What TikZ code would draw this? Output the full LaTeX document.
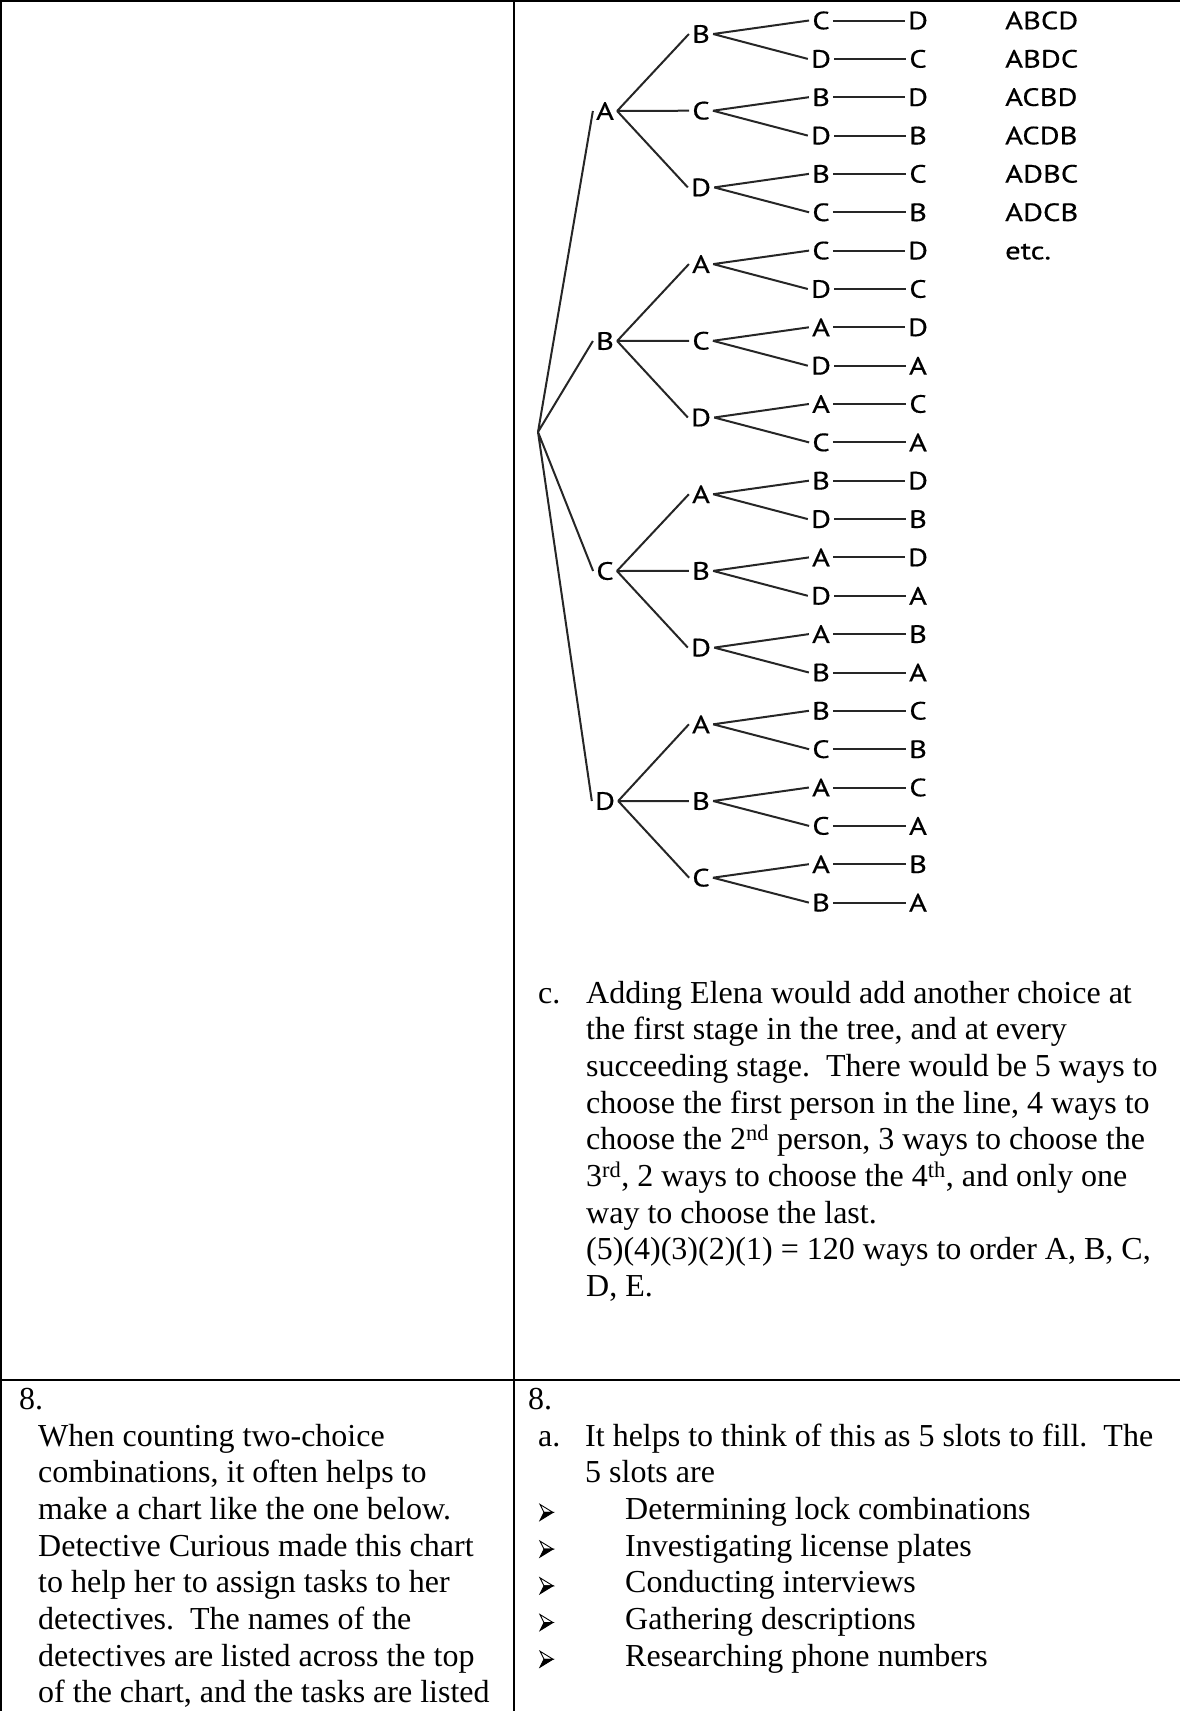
\documentclass[tikz,border=0pt]{standalone}
\usepackage{fontspec}
\setmainfont{Liberation Serif}
\newfontfamily\treefont[FakeStretch=1.22,FakeBold=0.5]{PT Sans}
\usepackage{tikz}

\tikzset{
  treeletter/.style={inner sep=3pt, font=\treefont\fontsize{25}{28}\selectfont},
  branch/.style={line width=2pt, color=black!85},
  prose/.style={anchor=base west, align=left, inner sep=0pt,
    font=\fontsize{32}{36.7}\selectfont},
  tablerule/.style={line width=2.2pt},
  slotmark/.pic={
    \filldraw[fill=white, line width=0.9pt, line join=miter] (0,-15) -- (13,-7) -- (4,-7) -- cycle;
    \filldraw[line width=0.9pt, line join=miter] (4,-7) -- (13,-7) -- (0,1) -- cycle;
  },
}
\frenchspacing

\begin{document}
\begin{tikzpicture}[x=1pt,y=-1pt]
\useasboundingbox (0,0) rectangle (1180,1711);

% table
\draw[tablerule] (0,1) -- (1180,1);
\draw[tablerule] (1,0) -- (1,1711);
\draw[tablerule] (514,0) -- (514,1711);
\draw[tablerule] (0,1380) -- (1180,1380);

% tree of orders
\begin{scope}[every node/.style=treeletter]
\path (538,432) coordinate (root)
    (605,111) node (a) {A}
    (605,341) node (b) {B}
    (605,571) node (c) {C}
    (605,801) node (d) {D}
    ;
\path (701,34) node (ab) {B}
    (701,110.7) node (ac) {C}
    (701,187.4) node (ad) {D}
    (701,264.1) node (ba) {A}
    (701,340.8) node (bc) {C}
    (701,417.5) node (bd) {D}
    (701,494.2) node (ca) {A}
    (701,570.9) node (cb) {B}
    (701,647.6) node (cd) {D}
    (701,724.3) node (da) {A}
    (701,801) node (db) {B}
    (701,877.7) node (dc) {C}
    ;
\path (821,20.5) node (abc) {C}   (918,20.5) node (abcd) {D}
    (821,58.9) node (abd) {D}     (918,58.9) node (abdc) {C}
    (821,97.2) node (acb) {B}     (918,97.2) node (acbd) {D}
    (821,135.6) node (acd) {D}    (918,135.6) node (acdb) {B}
    (821,173.9) node (adb) {B}    (918,173.9) node (adbc) {C}
    (821,212.3) node (adc) {C}    (918,212.3) node (adcb) {B}
    (821,250.6) node (bac) {C}    (918,250.6) node (bacd) {D}
    (821,289.0) node (bad) {D}    (918,289.0) node (badc) {C}
    (821,327.3) node (bca) {A}    (918,327.3) node (bcad) {D}
    (821,365.7) node (bcd) {D}    (918,365.7) node (bcda) {A}
    (821,404.0) node (bda) {A}    (918,404.0) node (bdac) {C}
    (821,442.4) node (bdc) {C}    (918,442.4) node (bdca) {A}
    (821,480.7) node (cab) {B}    (918,480.7) node (cabd) {D}
    (821,519.1) node (cad) {D}    (918,519.1) node (cadb) {B}
    (821,557.4) node (cba) {A}    (918,557.4) node (cbad) {D}
    (821,595.8) node (cbd) {D}    (918,595.8) node (cbda) {A}
    (821,634.1) node (cda) {A}    (918,634.1) node (cdab) {B}
    (821,672.5) node (cdb) {B}    (918,672.5) node (cdba) {A}
    (821,710.8) node (dab) {B}    (918,710.8) node (dabc) {C}
    (821,749.2) node (dac) {C}    (918,749.2) node (dacb) {B}
    (821,787.5) node (dba) {A}    (918,787.5) node (dbac) {C}
    (821,825.9) node (dbc) {C}    (918,825.9) node (dbca) {A}
    (821,864.2) node (dca) {A}    (918,864.2) node (dcab) {B}
    (821,902.6) node (dcb) {B}    (918,902.6) node (dcba) {A}
    ;
\path (1005,29.2) node[anchor=base west,inner sep=0pt] (w1) {ABCD}
    (1005,67.6) node[anchor=base west,inner sep=0pt] (w2) {ABDC}
    (1005,105.9) node[anchor=base west,inner sep=0pt] (w3) {ACBD}
    (1005,144.3) node[anchor=base west,inner sep=0pt] (w4) {ACDB}
    (1005,182.6) node[anchor=base west,inner sep=0pt] (w5) {ADBC}
    (1005,221.0) node[anchor=base west,inner sep=0pt] (w6) {ADCB}
    (1005,259.3) node[anchor=base west,inner sep=0pt] (w7) {etc.}
    ;
\end{scope}

\draw[branch] (node cs:name=root) -- (node cs:name=a,anchor=west)
    (node cs:name=root) -- (node cs:name=b,anchor=west)
    (node cs:name=root) -- (node cs:name=c,anchor=west)
    (node cs:name=root) -- (node cs:name=d,anchor=west);
\draw[branch] (node cs:name=a,anchor=east) -- (node cs:name=ab,anchor=west)
    (node cs:name=a,anchor=east) -- (node cs:name=ac,anchor=west)
    (node cs:name=a,anchor=east) -- (node cs:name=ad,anchor=west)
    (node cs:name=b,anchor=east) -- (node cs:name=ba,anchor=west)
    (node cs:name=b,anchor=east) -- (node cs:name=bc,anchor=west)
    (node cs:name=b,anchor=east) -- (node cs:name=bd,anchor=west)
    (node cs:name=c,anchor=east) -- (node cs:name=ca,anchor=west)
    (node cs:name=c,anchor=east) -- (node cs:name=cb,anchor=west)
    (node cs:name=c,anchor=east) -- (node cs:name=cd,anchor=west)
    (node cs:name=d,anchor=east) -- (node cs:name=da,anchor=west)
    (node cs:name=d,anchor=east) -- (node cs:name=db,anchor=west)
    (node cs:name=d,anchor=east) -- (node cs:name=dc,anchor=west);
\draw[branch] (node cs:name=ab,anchor=east) -- (node cs:name=abc,anchor=west)
    (node cs:name=ab,anchor=east) -- (node cs:name=abd,anchor=west)
    (node cs:name=ac,anchor=east) -- (node cs:name=acb,anchor=west)
    (node cs:name=ac,anchor=east) -- (node cs:name=acd,anchor=west)
    (node cs:name=ad,anchor=east) -- (node cs:name=adb,anchor=west)
    (node cs:name=ad,anchor=east) -- (node cs:name=adc,anchor=west)
    (node cs:name=ba,anchor=east) -- (node cs:name=bac,anchor=west)
    (node cs:name=ba,anchor=east) -- (node cs:name=bad,anchor=west)
    (node cs:name=bc,anchor=east) -- (node cs:name=bca,anchor=west)
    (node cs:name=bc,anchor=east) -- (node cs:name=bcd,anchor=west)
    (node cs:name=bd,anchor=east) -- (node cs:name=bda,anchor=west)
    (node cs:name=bd,anchor=east) -- (node cs:name=bdc,anchor=west)
    (node cs:name=ca,anchor=east) -- (node cs:name=cab,anchor=west)
    (node cs:name=ca,anchor=east) -- (node cs:name=cad,anchor=west)
    (node cs:name=cb,anchor=east) -- (node cs:name=cba,anchor=west)
    (node cs:name=cb,anchor=east) -- (node cs:name=cbd,anchor=west)
    (node cs:name=cd,anchor=east) -- (node cs:name=cda,anchor=west)
    (node cs:name=cd,anchor=east) -- (node cs:name=cdb,anchor=west)
    (node cs:name=da,anchor=east) -- (node cs:name=dab,anchor=west)
    (node cs:name=da,anchor=east) -- (node cs:name=dac,anchor=west)
    (node cs:name=db,anchor=east) -- (node cs:name=dba,anchor=west)
    (node cs:name=db,anchor=east) -- (node cs:name=dbc,anchor=west)
    (node cs:name=dc,anchor=east) -- (node cs:name=dca,anchor=west)
    (node cs:name=dc,anchor=east) -- (node cs:name=dcb,anchor=west);
\draw[branch] (node cs:name=abc) -- (node cs:name=abcd)
    (node cs:name=abd) -- (node cs:name=abdc)
    (node cs:name=acb) -- (node cs:name=acbd)
    (node cs:name=acd) -- (node cs:name=acdb)
    (node cs:name=adb) -- (node cs:name=adbc)
    (node cs:name=adc) -- (node cs:name=adcb)
    (node cs:name=bac) -- (node cs:name=bacd)
    (node cs:name=bad) -- (node cs:name=badc)
    (node cs:name=bca) -- (node cs:name=bcad)
    (node cs:name=bcd) -- (node cs:name=bcda)
    (node cs:name=bda) -- (node cs:name=bdac)
    (node cs:name=bdc) -- (node cs:name=bdca)
    (node cs:name=cab) -- (node cs:name=cabd)
    (node cs:name=cad) -- (node cs:name=cadb)
    (node cs:name=cba) -- (node cs:name=cbad)
    (node cs:name=cbd) -- (node cs:name=cbda)
    (node cs:name=cda) -- (node cs:name=cdab)
    (node cs:name=cdb) -- (node cs:name=cdba)
    (node cs:name=dab) -- (node cs:name=dabc)
    (node cs:name=dac) -- (node cs:name=dacb)
    (node cs:name=dba) -- (node cs:name=dbac)
    (node cs:name=dbc) -- (node cs:name=dbca)
    (node cs:name=dca) -- (node cs:name=dcab)
    (node cs:name=dcb) -- (node cs:name=dcba);

% part c (multi-line nodes sit on their last baseline)
\node[prose] (partc) at (538,1003) {c.};
\node[prose] (partctext) at (586,1296.6) {Adding Elena would add another choice at\\
  the first stage in the tree, and at every\\
  succeeding stage.\ \ There would be 5 ways to\\
  choose the first person in the line, 4 ways to\\
  choose the 2\textsuperscript{nd} person, 3 ways to choose the\\
  3\textsuperscript{rd}, 2 ways to choose the 4\textsuperscript{th}, and only one\\
  way to choose the last.\\
  (5)(4)(3)(2)(1) = 120 ways to order A, B, C,\\
  D, E.};

% question 8
\node[prose] (stem8) at (19,1409) {8.};
\node[prose] (stemtext) at (38,1702.9) {When counting two-choice\\
  combinations, it often helps to\\
  make a chart like the one below.\\
  Detective Curious made this chart\\
  to help her to assign tasks to her\\
  detectives.\ \ The names of the\\
  detectives are listed across the top\\
  of the chart, and the tasks are listed};

% answer 8
\node[prose] (answer8) at (528,1409) {8.};
\node[prose] (parta) at (538,1446) {a.};
\node[prose] (partatext) at (585,1482.7) {It helps to think of this as 5 slots to fill.\ \ The\\
  5 slots are};
\pic at (540,1519.4) {slotmark};
\pic at (540,1556.1) {slotmark};
\pic at (540,1592.8) {slotmark};
\pic at (540,1629.5) {slotmark};
\pic at (540,1666.2) {slotmark};
\node[prose] (slots) at (625,1666.2) {Determining lock combinations\\
  Investigating license plates\\
  Conducting interviews\\
  Gathering descriptions\\
  Researching phone numbers};
\end{tikzpicture}
\end{document}
